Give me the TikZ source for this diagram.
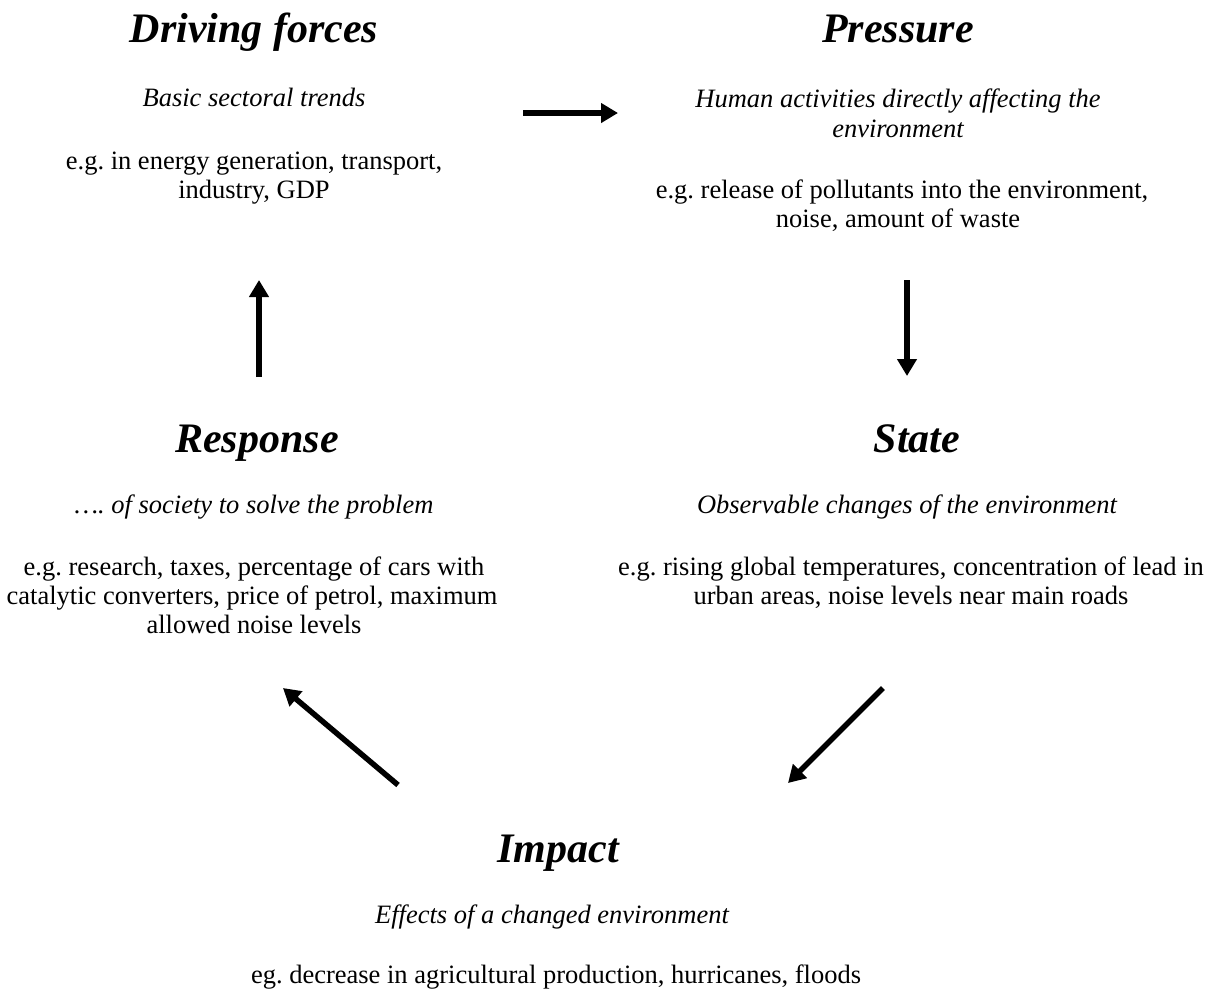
\documentclass[tikz,border=0pt]{standalone}
\usepackage{fontspec}
\setmainfont{Liberation Serif}
\usetikzlibrary{arrows.meta}
\frenchspacing
\begin{document}
\begin{tikzpicture}[x=1pt,y=-1pt,
 ttl/.style={anchor=base,inner sep=0pt,font=\fontsize{42}{46}\selectfont\bfseries\itshape},
 sub/.style={anchor=base,inner sep=0pt,font=\fontsize{26.5}{30}\selectfont\itshape},
 bod/.style={anchor=base,inner sep=0pt,font=\fontsize{26.5}{30}\selectfont},
 arr/.style={line width=5.5pt,-{Triangle[length=17pt,width=19pt]}}]
\useasboundingbox (0,0) rectangle (1218,989);
% Driving forces
\node[ttl] (dfT) at (254,42) {Driving forces};
\node[sub] (dfS) at (254,106) {Basic sectoral trends};
\node[bod] (dfB1) at (254,169) {e.g. in energy generation, transport,};
\node[bod] (dfB2) at (254,198) {industry, GDP};
% Pressure
\node[ttl] (prT) at (898,42) {Pressure};
\node[sub] (prS1) at (898,107) {Human activities directly affecting the};
\node[sub] (prS2) at (898,137) {environment};
\node[bod] (prB1) at (902,198) {e.g. release of pollutants into the environment,};
\node[bod] (prB2) at (898,227) {noise, amount of waste};
% Response
\node[ttl] (reT) at (257,452) {Response};
\node[sub] (reS) at (254,513) {…. of society to solve the problem};
\node[bod] (reB1) at (254,575) {e.g. research, taxes, percentage of cars with};
\node[bod] (reB2) at (252,604) {catalytic converters, price of petrol, maximum};
\node[bod] (reB3) at (254,633) {allowed noise levels};
% State
\node[ttl] (stT) at (917,452) {State};
\node[sub] (stS) at (907,513) {Observable changes of the environment};
\node[bod] (stB1) at (911,575) {e.g. rising global temperatures, concentration of lead in};
\node[bod] (stB2) at (911,604) {urban areas, noise levels near main roads};
% Impact
\node[ttl] (imT) at (558,862) {Impact};
\node[sub] (imS) at (552,923) {Effects of a changed environment};
\node[bod] (imB) at (556,983) {eg. decrease in agricultural production, hurricanes, floods};
% arrow ends
\coordinate (a1s) at (523,113); \coordinate (a1e) at (618,113);
\coordinate (a2s) at (907,280); \coordinate (a2e) at (907,376);
\coordinate (a3s) at (883,688); \coordinate (a3e) at (788,783);
\coordinate (a4s) at (398,785); \coordinate (a4e) at (283,688);
\coordinate (a5s) at (259,377); \coordinate (a5e) at (259,280);
\draw[arr] (a1s) -- (a1e);
\draw[arr] (a2s) -- (a2e);
\draw[arr] (a3s) -- (a3e);
\draw[arr] (a4s) -- (a4e);
\draw[arr] (a5s) -- (a5e);
\end{tikzpicture}
\end{document}
